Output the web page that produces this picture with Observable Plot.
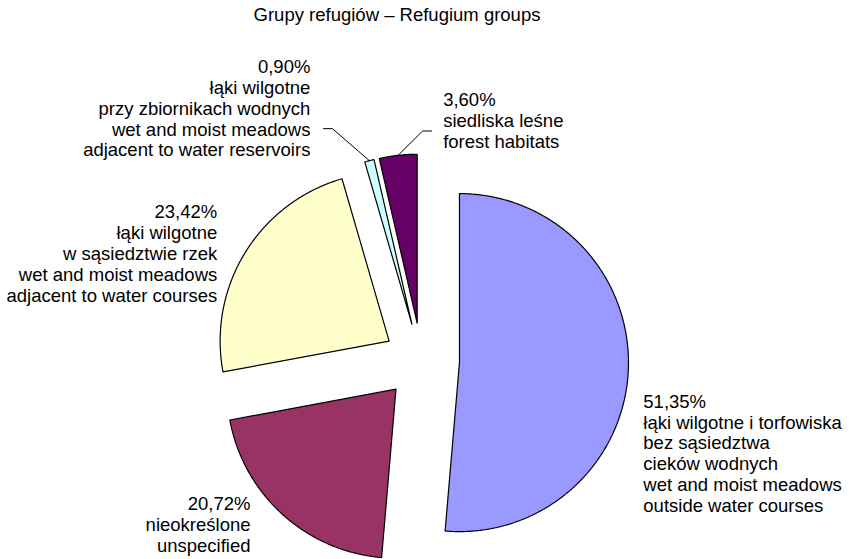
<!DOCTYPE html>
<html><head><meta charset="utf-8">
<script src="https://cdn.jsdelivr.net/npm/d3@7"></script>
<script src="https://cdn.jsdelivr.net/npm/@observablehq/plot@0.6"></script>
<style>body{margin:0;background:#fff} svg{display:block}</style>
</head><body><div id="chart"></div>
<script>
// ---- data ----
const title = "Grupy refugiów – Refugium groups";
const shares = [51.35, 20.72, 23.42, 0.90, 3.60];
const shareLabels = ["51,35%", "20,72%", "23,42%", "0,90%", "3,60%"];
const namesPL = [
  "łąki wilgotne i torfowiska\nbez sąsiedztwa\ncieków wodnych",
  "nieokreślone",
  "łąki wilgotne\nw sąsiedztwie rzek",
  "łąki wilgotne\nprzy zbiornikach wodnych",
  "siedliska leśne"
];
const namesEN = [
  "wet and moist meadows\noutside water courses",
  "unspecified",
  "wet and moist meadows\nadjacent to water courses",
  "wet and moist meadows\nadjacent to water reservoirs",
  "forest habitats"
];
const colors = ["#9999FF", "#993366", "#FFFFCC", "#CCFFFF", "#660066"];

// ---- layout ----
const W = 849, H = 559;
const CX = 421, CY = 360.5, R = 169;       // pie centre (px) and radius (px per unit)
const EXPLODE = 38 / R;
const FS = 18.5, LH = 20.8 / 18.5;
// label placement relative to the slice's outer mid point (px): anchor, dx, first-baseline offset
const labelLayout = [
  {anchor: "start", dx: 15, base: 38},
  {anchor: "end", dx: -32, base: -4},
  {anchor: "end", dx: -28, base: -34},
  {anchor: "end", dx: -59, base: -87.5},
  {anchor: "start", dx: 45, base: -49}
];
// leader lines (px offsets from outer mid point): bend, end
const leaderLayout = {3: [[-37, -32], [-46, -32]], 4: [[24.4, -24.3], [33.4, -24.3]]};

const pie = d3.pie().sort(null).value(d => d)(shares);
const slices = pie.map((p, i) => {
  const mid = (p.startAngle + p.endAngle) / 2;
  return {i, start: p.startAngle, end: p.endAngle, mid,
          ax: EXPLODE * Math.sin(mid), ay: EXPLODE * Math.cos(mid)};
});
const outline = slices.flatMap(s => {
  const n = Math.max(2, Math.ceil((s.end - s.start) / 0.005));
  const pts = [{i: s.i, x: s.ax, y: s.ay}];
  for (let k = 0; k <= n; ++k) {
    const t = s.start + (s.end - s.start) * k / n;
    pts.push({i: s.i, x: s.ax + Math.sin(t), y: s.ay + Math.cos(t)});
  }
  pts.push({i: s.i, x: s.ax, y: s.ay});
  return pts;
});
const outer = s => ({x: s.ax + Math.sin(s.mid), y: s.ay + Math.cos(s.mid)});

const leaders = Object.entries(leaderLayout).flatMap(([k, offs]) => {
  const o = outer(slices[+k]);
  return [{i: +k, x: o.x, y: o.y}, ...offs.map(([dx, dy]) => ({i: +k, x: o.x + dx / R, y: o.y - dy / R}))];
});

const labelMarks = slices.map(s => {
  const o = outer(s), L = labelLayout[s.i];
  return Plot.text([s], {
    x: () => o.x, y: () => o.y,
    text: d => [shareLabels[d.i], namesPL[d.i], namesEN[d.i]].join("\n"),
    textAnchor: L.anchor, lineAnchor: "top", lineHeight: LH,
    dx: L.dx, dy: L.base - 0.71 * LH * FS,
    fontSize: FS, fill: "#000"
  });
});

const chart = Plot.plot({
  width: W, height: H, margin: 0,
  x: {domain: [-CX / R, (W - CX) / R], range: [0, W], axis: null},
  y: {domain: [-(H - CY) / R, CY / R], range: [H, 0], axis: null},
  color: {type: "identity"},
  style: {fontFamily: "'Liberation Sans', Arial, sans-serif", background: "white", color: "black"},
  marks: [
    Plot.line(outline, {x: "x", y: "y", z: "i", fill: d => colors[d.i], stroke: "black",
      strokeWidth: 1.2, strokeLinejoin: "miter", curve: "linear"}),
    Plot.line(leaders, {x: "x", y: "y", z: "i", stroke: "black", strokeWidth: 1, curve: "linear"}),
    ...labelMarks,
    Plot.text([title], {frameAnchor: "top", text: d => d, fontSize: FS, fill: "#000",
      dx: 396.5 - W / 2, dy: 20.5 - 0.71 * FS})
  ]
});
document.getElementById("chart").append(chart);
</script>
</body></html>
